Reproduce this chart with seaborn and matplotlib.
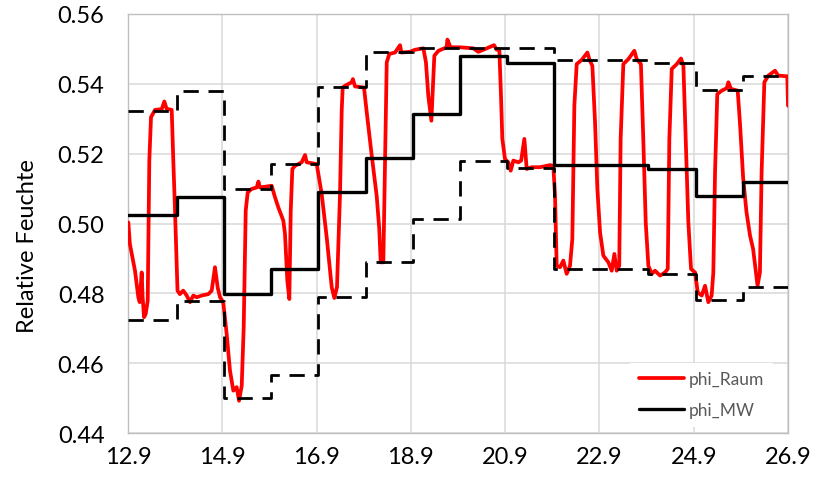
import matplotlib
matplotlib.use("Agg")
import matplotlib.pyplot as plt
import pandas as pd
import seaborn as sns

# Raumfeuchte phi_Raum: Zeit in Tagen ab 12.9., 00:00
tage = [
    0.007, 0.04, 0.148, 0.219, 0.248, 0.29, 0.31, 0.34, 0.375, 0.418,
    0.452, 0.488, 0.573, 0.715, 0.77, 0.82, 0.927, 0.961, 0.997, 1.05,
    1.10, 1.17, 1.245, 1.315, 1.385, 1.457, 1.563, 1.704, 1.775, 1.845,
    1.902, 1.952, 2.02, 2.093, 2.163, 2.234, 2.305, 2.355, 2.412, 2.454,
    2.497, 2.539, 2.624, 2.73, 2.766, 2.80, 3.048, 3.118, 3.189, 3.295,
    3.33, 3.38, 3.422, 3.452, 3.486, 3.543, 3.684, 3.755, 3.79, 4.003,
    4.109, 4.215, 4.321, 4.377, 4.433, 4.497, 4.533, 4.554, 4.603, 4.745,
    4.77, 4.815, 5.006, 5.064, 5.17, 5.275, 5.33, 5.36, 5.416, 5.452,
    5.488, 5.543, 5.664, 5.77, 5.80, 5.982, 6.088, 6.265, 6.32, 6.37,
    6.406, 6.435, 6.465, 6.498, 6.585, 6.76, 6.775, 6.84, 7.043, 7.325,
    7.43, 7.61, 7.764, 7.82, 7.876, 7.912, 7.94, 7.997, 8.067, 8.118,
    8.174, 8.28, 8.34, 8.407, 8.457, 8.563, 8.74, 8.952, 9.022, 9.058,
    9.093, 9.164, 9.234, 9.305, 9.376, 9.425, 9.468, 9.518, 9.624, 9.744,
    9.79, 9.85, 9.907, 9.956, 10.013, 10.083, 10.19, 10.26, 10.317, 10.366,
    10.42, 10.45, 10.507, 10.613, 10.74, 10.79, 10.88, 10.93, 10.982, 11.038,
    11.109, 11.18, 11.286, 11.39, 11.449, 11.483, 11.534, 11.64, 11.731, 11.781,
    11.83, 11.886, 11.943, 12.028, 12.085, 12.17, 12.24, 12.31, 12.38, 12.416,
    12.452, 12.5, 12.594, 12.7, 12.735, 12.79, 12.933, 12.98, 13.05, 13.12,
    13.195, 13.26, 13.32, 13.354, 13.404, 13.44, 13.498, 13.583, 13.725, 13.79,
    13.985, 14.0,
]
phi_raum = [
    0.5003, 0.4941, 0.4865, 0.4789, 0.4775, 0.4860, 0.4790, 0.4732, 0.4741, 0.4779,
    0.5180, 0.5304, 0.5325, 0.5327, 0.5349, 0.5328, 0.5325, 0.5180, 0.5037, 0.4808,
    0.4798, 0.4808, 0.4794, 0.4775, 0.4794, 0.4789, 0.4794, 0.4798, 0.4808, 0.4875,
    0.4817, 0.4789, 0.4775, 0.4684, 0.4579, 0.4522, 0.4532, 0.4493, 0.4536, 0.4703,
    0.5037, 0.5089, 0.5099, 0.5103, 0.5120, 0.5103, 0.5108, 0.5075, 0.5046, 0.5008,
    0.4970, 0.4836, 0.4784, 0.5037, 0.5156, 0.5165, 0.5175, 0.5196, 0.5175, 0.5170,
    0.5084, 0.4960, 0.4818, 0.4787, 0.4818, 0.5084, 0.5323, 0.5389, 0.5394, 0.5404,
    0.5413, 0.5392, 0.5389, 0.5318, 0.5194, 0.5079, 0.4984, 0.4889, 0.4889, 0.5175,
    0.5461, 0.5485, 0.5489, 0.5510, 0.5489, 0.5491, 0.5497, 0.5501, 0.5461, 0.5365,
    0.5327, 0.5294, 0.5385, 0.5480, 0.5494, 0.5504, 0.5526, 0.5504, 0.5504, 0.5501,
    0.5491, 0.5501, 0.5510, 0.5497, 0.5499, 0.5365, 0.5242, 0.5184, 0.5175, 0.5151,
    0.5180, 0.5175, 0.5180, 0.5242, 0.5156, 0.5161, 0.5161, 0.5167, 0.5165, 0.5079,
    0.4879, 0.4875, 0.4894, 0.4856, 0.4879, 0.4956, 0.5337, 0.5456, 0.5468, 0.5489,
    0.5468, 0.5451, 0.5289, 0.5099, 0.4975, 0.4908, 0.4889, 0.4865, 0.4913, 0.4865,
    0.4879, 0.5242, 0.5456, 0.5470, 0.5494, 0.5470, 0.5456, 0.5242, 0.5003, 0.4879,
    0.4856, 0.4865, 0.4851, 0.4860, 0.4870, 0.5242, 0.5442, 0.5456, 0.5472, 0.5451,
    0.5242, 0.5003, 0.4870, 0.4860, 0.4803, 0.4794, 0.4822, 0.4775, 0.4794, 0.4860,
    0.5146, 0.5370, 0.5380, 0.5387, 0.5404, 0.5385, 0.5380, 0.5289, 0.5127, 0.5032,
    0.4965, 0.4927, 0.4860, 0.4822, 0.4860, 0.5146, 0.5404, 0.5423, 0.5437, 0.5423,
    0.5421, 0.5337,
]

# Tageswerte (Mittelwert, Maximum, Minimum) je Auswertetag
stufen = [0.0, 1.04, 2.04, 3.04, 4.04, 5.04, 6.04, 7.04, 8.04, 9.04,
          10.04, 11.04, 12.04, 13.04, 14.0]
phi_mw = [0.5025, 0.5077, 0.4798, 0.4869, 0.5091, 0.5188, 0.5314, 0.5480,
          0.5460, 0.5168, 0.5167, 0.5157, 0.5080, 0.5119]
phi_max = [0.5323, 0.5380, 0.5099, 0.5169, 0.5389, 0.5490, 0.5501, 0.5501,
           0.5501, 0.5467, 0.5467, 0.5459, 0.5383, 0.5421]
phi_min = [0.4725, 0.4778, 0.4501, 0.4568, 0.4789, 0.4889, 0.5013, 0.5178,
           0.5158, 0.4869, 0.4869, 0.4856, 0.4782, 0.4818]

x_ticks = [0, 2, 4, 6, 8, 10, 12, 14]
x_labels = ["12.9", "14.9", "16.9", "18.9", "20.9", "22.9", "24.9", "26.9"]
y_ticks = [0.44, 0.46, 0.48, 0.50, 0.52, 0.54, 0.56]
y_labels = ["0.44", "0.46", "0.48", "0.50", "0.52", "0.54", "0.56"]

sns.set_theme(style="white", rc={
    "axes.edgecolor": "#BFBFBF",
    "axes.linewidth": 1.0,
    "grid.color": "#D9D9D9",
    "grid.linewidth": 1.1,
})
plt.rcParams["font.family"] = ["Lato", "DejaVu Sans"]

fig = plt.figure(figsize=(8.28, 4.81), dpi=100)
ax = fig.add_axes([0.1546, 0.0971, 0.7971, 0.8723])

raum = pd.DataFrame({"t": tage, "phi": phi_raum})


def stufe(werte):
    return pd.DataFrame({"t": stufen, "phi": list(werte) + [werte[-1]]})


sns.lineplot(data=raum, x="t", y="phi", ax=ax, color="#FF0000",
             linewidth=2.7, label="phi_Raum", zorder=3)
sns.lineplot(data=stufe(phi_mw), x="t", y="phi", ax=ax, color="black",
             linewidth=2.4, drawstyle="steps-post", label="phi_MW", zorder=4)
for werte in (phi_max, phi_min):
    sns.lineplot(data=stufe(werte), x="t", y="phi", ax=ax, color="black",
                 linewidth=2.0, drawstyle="steps-post",
                 linestyle=(0, (5.5, 3.5)), zorder=4)

ax.set_xlim(0, 14)
ax.set_ylim(0.44, 0.56)
ax.set_xticks(x_ticks)
ax.set_xticklabels(x_labels)
ax.set_yticks(y_ticks)
ax.set_yticklabels(y_labels)
ax.grid(True, which="major", axis="both")
ax.set_axisbelow(True)
for s in ax.spines.values():
    s.set_visible(True)
    s.set_color("#BFBFBF")

ax.tick_params(axis="both", length=0, labelsize=17, colors="#000000")
ax.tick_params(axis="y", pad=17)
ax.tick_params(axis="x", pad=9)
ax.set_xlabel("")
ax.set_ylabel("Relative Feuchte", fontsize=17, color="#000000")
ax.yaxis.set_label_coords(-0.137, 0.448)

handles, labels = ax.get_legend_handles_labels()
leg = ax.legend(handles[:2], labels[:2], loc="lower right",
                bbox_to_anchor=(1.0, -0.02), frameon=True, fontsize=12.5,
                handlelength=2.6, handletextpad=0.3, labelspacing=0.85,
                borderpad=0.5, borderaxespad=0.85, fancybox=False,
                framealpha=1)
leg.get_frame().set_edgecolor("none")
leg.get_frame().set_facecolor("white")
for txt in leg.get_texts():
    txt.set_color("#595959")

fig.savefig("out.png", dpi=100)
